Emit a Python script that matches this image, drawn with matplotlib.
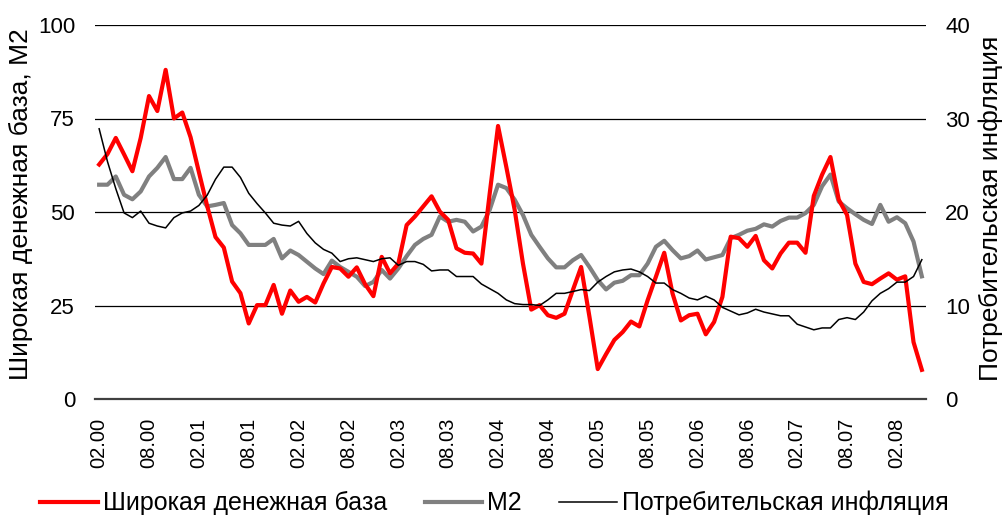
import numpy as np
import matplotlib
matplotlib.use('Agg')
import matplotlib.pyplot as plt

plt.rcParams['font.family'] = ['Liberation Sans', 'DejaVu Sans']

"""Данные: помесячно, 02.2000 - 05.2008"""
# широкая денежная база, % г/г (левая шкала)
base = [62.7, 65.5, 69.8, 65.4, 60.9, 69.8, 81.0, 77.0, 88.0, 75.0,
        76.6, 70.0, 60.7, 51.6, 43.3, 40.5, 31.4, 28.3, 20.2, 25.1,
        25.1, 30.5, 22.8, 29.0, 26.0, 27.3, 25.8, 30.9, 35.3, 34.9,
        32.7, 35.2, 30.7, 27.5, 38.0, 33.6, 36.2, 46.5, 48.8, 51.5,
        54.2, 50.1, 47.9, 40.3, 39.1, 38.9, 36.2, 55.0, 73.0, 62.0,
        50.6, 36.2, 23.9, 25.1, 22.4, 21.7, 22.8, 29.1, 35.3, 22.0,
        8.0, 12.0, 15.8, 17.9, 20.7, 19.4, 26.4, 32.7, 39.1, 28.2,
        21.0, 22.4, 22.8, 17.3, 20.6, 27.3, 43.4, 43.0, 40.7, 43.6,
        37.1, 34.9, 38.9, 41.8, 41.8, 39.1, 54.3, 60.0, 64.7, 53.3,
        49.2, 36.2, 31.3, 30.7, 32.2, 33.6, 31.9, 32.8, 15.2, 7.8]

# М2, % г/г (левая шкала)
m2 = [57.3, 57.3, 59.5, 54.6, 53.4, 55.5, 59.5, 61.8, 64.7, 58.8,
      58.8, 61.8, 54.6, 51.5, 51.9, 52.4, 46.5, 44.3, 41.2, 41.2,
      41.2, 42.8, 37.6, 39.7, 38.5, 36.7, 34.9, 33.4, 37.0, 35.3,
      34.0, 32.7, 30.2, 31.3, 34.5, 32.2, 34.9, 38.2, 41.2, 42.8,
      43.9, 48.8, 47.4, 47.9, 47.4, 44.8, 46.1, 50.6, 57.3, 56.4,
      53.3, 49.2, 43.9, 40.7, 37.6, 35.2, 35.2, 37.1, 38.5, 35.3,
      31.8, 29.3, 31.1, 31.6, 33.1, 33.1, 36.2, 40.7, 42.3, 39.8,
      37.6, 38.2, 39.7, 37.3, 37.9, 38.5, 43.0, 43.9, 45.0, 45.5,
      46.7, 46.1, 47.6, 48.5, 48.5, 49.7, 51.9, 56.9, 60.0, 52.8,
      51.0, 49.4, 47.9, 46.8, 51.9, 47.4, 48.6, 47.0, 42.1, 32.8]

# потребительская инфляция, % г/г (правая шкала)
cpi = [28.9, 25.4, 22.5, 19.9, 19.4, 20.1, 18.8, 18.5, 18.3, 19.4,
       19.9, 20.1, 20.7, 21.8, 23.5, 24.8, 24.8, 23.7, 22.0, 20.9,
       19.9, 18.8, 18.6, 18.5, 19.0, 17.7, 16.7, 16.0, 15.6, 14.7,
       15.0, 15.1, 14.9, 14.7, 15.0, 15.1, 14.3, 14.7, 14.7, 14.4,
       13.7, 13.8, 13.8, 13.1, 13.1, 13.1, 12.3, 11.8, 11.3, 10.6,
       10.2, 10.1, 10.1, 10.0, 10.6, 11.3, 11.3, 11.5, 11.7, 11.6,
       12.5, 13.1, 13.6, 13.8, 13.9, 13.6, 13.1, 12.4, 12.4, 11.7,
       11.3, 10.8, 10.6, 11.0, 10.6, 9.8, 9.4, 9.0, 9.2, 9.6,
       9.3, 9.1, 8.9, 8.9, 8.0, 7.7, 7.4, 7.6, 7.6, 8.5,
       8.7, 8.5, 9.3, 10.5, 11.3, 11.8, 12.5, 12.5, 13.1, 14.9]

tick_labels = ['02.00', '08.00', '02.01', '08.01', '02.02', '08.02', '02.03',
               '08.03', '02.04', '08.04', '02.05', '08.05', '02.06', '08.06',
               '02.07', '08.07', '02.08']

x = np.arange(len(base))

"""Фигура"""
fig = plt.figure(figsize=(10.05, 5.16), dpi=100)
ax = fig.add_axes([95/1005, 1 - 399/516, 831/1005, 374/516])
ax2 = ax.twinx()

ax.plot(x, m2, color='#808080', lw=3.0, zorder=2, label='М2', solid_joinstyle='round')
ax.plot(x, base, color='#ff0000', lw=3.0, zorder=3, label='Широкая денежная база', solid_joinstyle='round')
ax2.plot(x, cpi, color='black', lw=1.1, label='Потребительская инфляция')

ax.set_xlim(-0.5, len(base) - 0.5)
ax.set_ylim(0, 100)
ax2.set_ylim(0, 40)
ax.set_yticks([0, 25, 50, 75, 100])
ax2.set_yticks([0, 10, 20, 30, 40])
ax.set_xticks(np.arange(0, len(base), 6))
ax.set_xticklabels(tick_labels, rotation=90)

for a in (ax, ax2):
    for s in a.spines.values():
        s.set_visible(False)
ax.spines['bottom'].set_visible(True)
ax.spines['bottom'].set_color('#404040')
ax.spines['bottom'].set_linewidth(1.6)

ax.grid(axis='y', color='black', lw=0.9)
ax.set_axisbelow(True)

# pad в пунктах: 20 px ~ 14.4 pt
ax.tick_params(axis='both', length=0)
ax.tick_params(axis='y', pad=14.4, labelsize=16)
ax.tick_params(axis='x', pad=13.5, labelsize=14.5)
ax2.tick_params(axis='y', length=0, labelsize=16, pad=13.7)

ax.set_ylabel('Широкая денежная база, М2', fontsize=19)
ax.yaxis.set_label_coords(-(95 - 33)/831, 0.52)
ax2.set_ylabel('Потребительская инфляция', fontsize=19)
ax2.yaxis.set_label_coords(1 + (978 - 926)/831, 0.51)

"""Легенда"""
h1, l1 = ax.get_legend_handles_labels()
h2, l2 = ax2.get_legend_handles_labels()
order = [1, 0]
handles = [h1[i] for i in order] + h2
labels = [l1[i] for i in order] + l2
fig.legend(handles, labels, loc='center', bbox_to_anchor=(0.492, 1 - 503/516),
           ncol=3, frameon=False, fontsize=18, handlelength=2.3,
           handletextpad=0.2, columnspacing=1.5, borderpad=0.2)

fig.savefig('out.png', dpi=100)
